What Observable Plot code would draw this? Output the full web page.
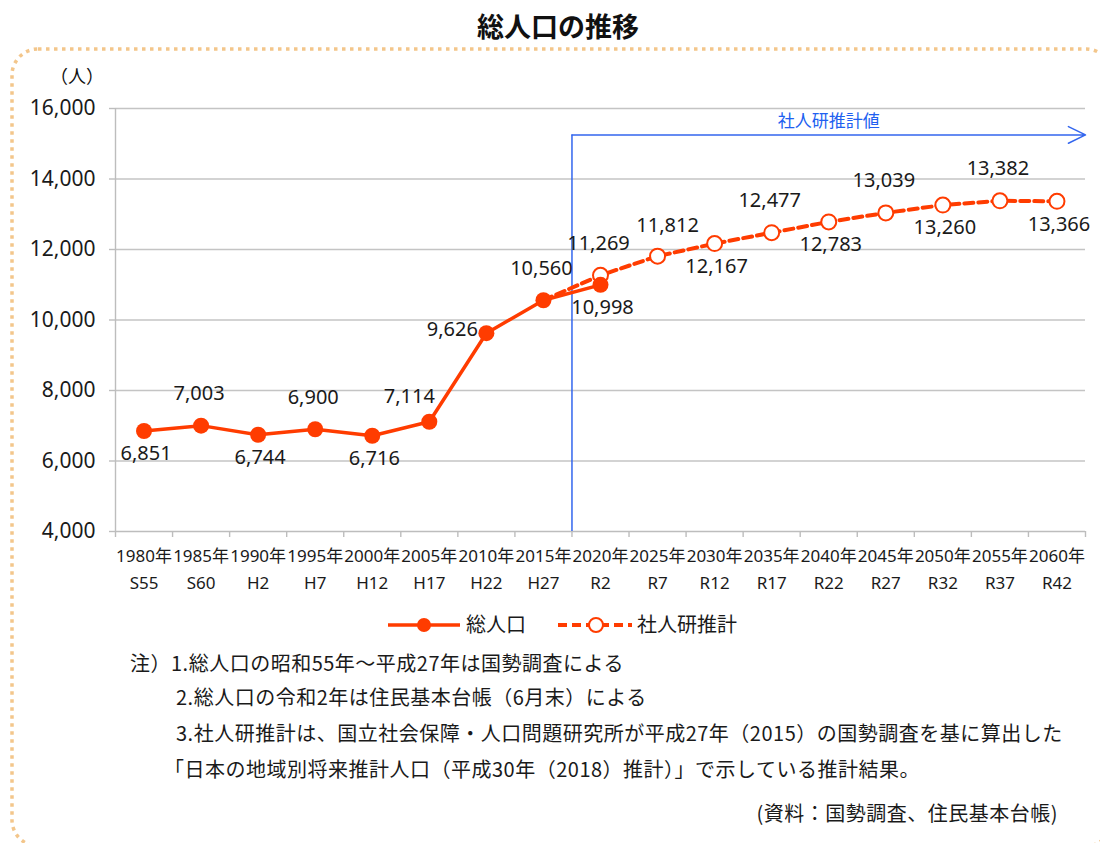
<!DOCTYPE html>
<html><head><meta charset="utf-8">
<script src="https://cdn.jsdelivr.net/npm/d3@7"></script>
<script src="https://cdn.jsdelivr.net/npm/@observablehq/plot@0.6"></script>
<style>
body{margin:0;background:#fff;}
#wrap{position:relative;width:1100px;height:843px;overflow:hidden;font-family:"Noto Sans","Noto Sans CJK JP",sans-serif;color:#111;}
#frame{position:absolute;left:0;top:0;pointer-events:none;}
#title{position:absolute;left:0;width:1116px;top:8px;text-align:center;font-size:27px;font-weight:bold;font-family:"Noto Sans CJK JP",sans-serif;line-height:36px;}
#unit{position:absolute;left:50px;top:62px;font-size:18px;font-family:"Noto Sans CJK JP",sans-serif;line-height:26px;}
#chart{position:absolute;left:0;top:48px;}
#legend{position:absolute;left:0;top:610px;}
.note{position:absolute;font-size:20px;line-height:26px;white-space:nowrap;font-family:"Noto Sans CJK JP",sans-serif;letter-spacing:0.5px;color:#1a1a1a;}
</style></head><body>
<div id="wrap">
  <svg id="frame" width="1100" height="843"><rect x="12" y="49" width="1100" height="797" rx="26" ry="26" fill="none" stroke="#f3c68b" stroke-width="3.5" stroke-dasharray="3.5 4.5"/></svg>
  <div id="title">総人口の推移</div>
  <div id="unit">（人）</div>
  <div id="chart"></div>
  <div id="legend"></div>
  <div class="note" style="left:130px;top:650px;">注）1.総人口の昭和55年～平成27年は国勢調査による</div>
  <div class="note" style="left:176px;top:684px;">2.総人口の令和2年は住民基本台帳（6月末）による</div>
  <div class="note" style="left:176px;top:720px;">3.社人研推計は、国立社会保障・人口問題研究所が平成27年（2015）の国勢調査を基に算出した</div>
  <div class="note" style="left:164px;top:756px;">「日本の地域別将来推計人口（平成30年（2018）推計）」で示している推計結果。</div>
  <div class="note" style="right:42px;top:800px;">(資料：国勢調査、住民基本台帳)</div>
</div>
<script>
const years = [1980,1985,1990,1995,2000,2005,2010,2015,2020,2025,2030,2035,2040,2045,2050,2055,2060];
const eras = ["S55","S60","H2","H7","H12","H17","H22","H27","R2","R7","R12","R17","R22","R27","R32","R37","R42"];

const actualYears = [1980,1985,1990,1995,2000,2005,2010,2015,2020];
const actualValues = [6851,7003,6744,6900,6716,7114,9626,10560,10998];
const actualPlacement = ["below","above","below","above","below","above-left","left","above","below"];

const projYears = [2015,2020,2025,2030,2035,2040,2045,2050,2055,2060];
const projValues = [10560,11269,11812,12167,12477,12783,13039,13260,13382,13366];
const projPlacement = [null,"above","above-right","below","above","below","above","below","above","below"];

const yTicks = [4000,6000,8000,10000,12000,14000,16000];
const seriesNames = ["総人口","社人研推計"];
const projectionLabel = "社人研推計値";
const projectionStart = 2017.5;   // boundary between 2015 and 2020
const arrowLevel = 15250;

const RED = "#ff3c00", BLUE = "#3366ee", GRID = "#c4c4c4", AXIS = "#bdbdbd";
const half = 2.5;
const xDomain = [years[0] - half, years[years.length - 1] + half];
const boundaries = years.map(y => y - half).concat([years[years.length - 1] + half]);
const eraOf = new Map(years.map((y, i) => [y, eras[i]]));

const actual = actualYears.map((y, i) => ({year: y, value: actualValues[i], place: actualPlacement[i]}));
const proj = projYears.map((y, i) => ({year: y, value: projValues[i], place: projPlacement[i]}));

const offsets = {
  "above": {dx: -2, dy: -32},
  "below": {dx: 2, dy: 23},
  "left": {dx: -34, dy: -4},
  "above-left": {dx: -20, dy: -25},
  "above-right": {dx: 10, dy: -31}
};
const fmt = d3.format(",");
const labelMarks = [];
for (const [name, o] of Object.entries(offsets)) {
  const data = actual.concat(proj.slice(1)).filter(d => d.place === name);
  labelMarks.push(Plot.text(data, {x: "year", y: "value", text: d => fmt(d.value), dx: o.dx, dy: o.dy, fontSize: 20, fill: "#1a1a1a"}));
}

const chart = Plot.plot({
  width: 1100,
  height: 552,
  marginLeft: 115,
  marginRight: 15,
  marginTop: 60,
  marginBottom: 69,
  style: {fontFamily: '"Noto Sans","Noto Sans CJK JP",sans-serif', fontSize: "16px", color: "#1a1a1a", background: "transparent", overflow: "visible"},
  x: {type: "linear", domain: xDomain},
  y: {domain: [yTicks[0], yTicks[yTicks.length - 1]]},
  marks: [
    Plot.ruleY(yTicks.slice(1), {stroke: GRID, strokeWidth: 1.6}),
    Plot.ruleY([yTicks[0]], {stroke: AXIS, strokeWidth: 1.4}),
    Plot.ruleX([xDomain[0]], {stroke: AXIS, strokeWidth: 1.4}),
    Plot.axisY(yTicks, {tickSize: 6, tickPadding: 14, stroke: AXIS, strokeWidth: 1.4, fontSize: 21, tickFormat: fmt, label: null}),
    Plot.axisX(boundaries, {tickSize: 6, stroke: AXIS, strokeWidth: 1.4, tickFormat: () => "", label: null}),
    Plot.axisX(years, {tickSize: 0, tickPadding: 12, fontSize: 17, lineHeight: 1.55, tickFormat: d => `${d}年\n${eraOf.get(d)}`, label: null}),
    Plot.ruleX([projectionStart], {y1: yTicks[0], y2: arrowLevel, stroke: BLUE, strokeWidth: 1.5}),
    Plot.arrow([0], {x1: () => projectionStart, x2: () => xDomain[1], y1: () => arrowLevel, y2: () => arrowLevel, stroke: BLUE, strokeWidth: 1.5, headLength: 19, headAngle: 52}),
    Plot.text([projectionLabel], {x: () => (projectionStart + xDomain[1]) / 2, y: () => arrowLevel, text: d => d, dy: -13, fill: "#2060f0", fontSize: 17, fontFamily: '"Noto Sans CJK JP",sans-serif'}),
    Plot.line(proj, {x: "year", y: "value", stroke: RED, strokeWidth: 4, strokeDasharray: "9,5"}),
    Plot.dot(proj.slice(1), {x: "year", y: "value", r: 7.5, fill: "white", stroke: RED, strokeWidth: 2}),
    Plot.line(actual, {x: "year", y: "value", stroke: RED, strokeWidth: 3.5}),
    Plot.dot(actual, {x: "year", y: "value", r: 8, fill: RED}),
    ...labelMarks
  ]
});
document.getElementById("chart").appendChild(chart);

// legend
const lg = d3.select("#legend").append("svg").attr("width", 1100).attr("height", 30)
  .style("font-family", '"Noto Sans CJK JP",sans-serif');
lg.append("line").attr("x1", 388).attr("x2", 460).attr("y1", 15).attr("y2", 15).attr("stroke", RED).attr("stroke-width", 3.5);
lg.append("circle").attr("cx", 424).attr("cy", 15).attr("r", 7).attr("fill", RED);
lg.append("text").attr("x", 466).attr("y", 15).attr("dy", "0.35em").attr("font-size", 20).attr("fill", "#1a1a1a").text(seriesNames[0]);
lg.append("line").attr("x1", 558).attr("x2", 632).attr("y1", 15).attr("y2", 15).attr("stroke", RED).attr("stroke-width", 4).attr("stroke-dasharray", "9,5");
lg.append("circle").attr("cx", 596).attr("cy", 15).attr("r", 7).attr("fill", "white").attr("stroke", RED).attr("stroke-width", 2);
lg.append("text").attr("x", 637).attr("y", 15).attr("dy", "0.35em").attr("font-size", 20).attr("fill", "#1a1a1a").text(seriesNames[1]);
</script>
</body></html>
